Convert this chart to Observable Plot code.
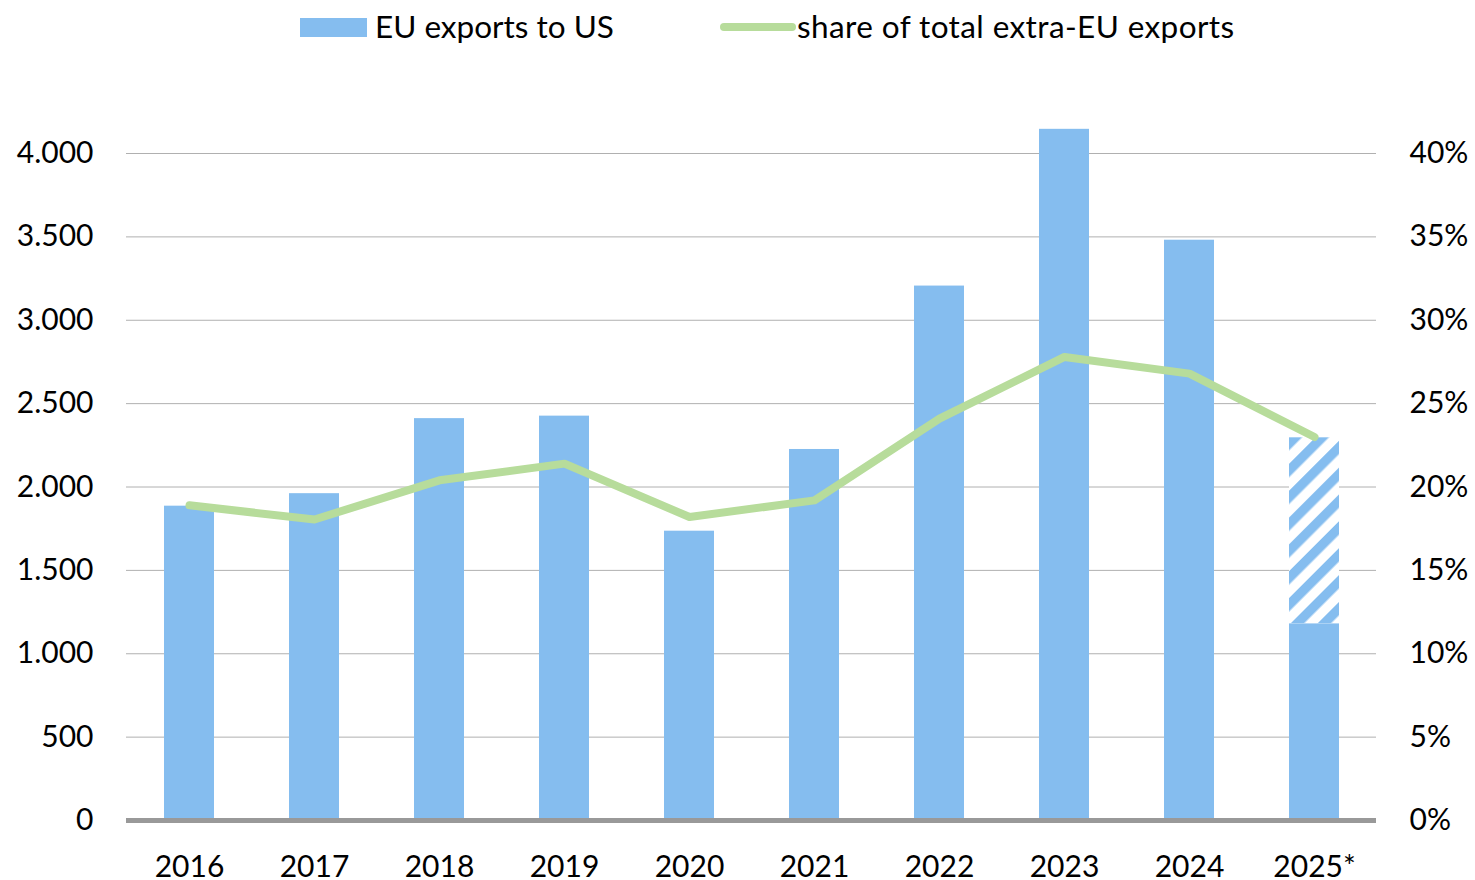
<!DOCTYPE html>
<html>
<head>
<meta charset="utf-8">
<script src="https://cdn.jsdelivr.net/npm/d3@7"></script>
<script src="https://cdn.jsdelivr.net/npm/@observablehq/plot@0.6"></script>
<style>
  html, body { margin: 0; padding: 0; background: #fff; }
  body { width: 1475px; height: 880px; overflow: hidden; font-family: Lato, "Open Sans", sans-serif; color: #000; }
  #legend { position: relative; height: 60px; width: 1475px; }
  #legend .sw { position: absolute; }
  #legend .lb { position: absolute; top: 7px; font-size: 31.5px; line-height: 38px; white-space: nowrap; }
</style>
</head>
<body>
<div id="legend">
  <div class="sw" style="left:300px;top:18px;width:67px;height:19px;background:#85bdef"></div>
  <div class="lb" style="left:375px">EU exports to US</div>
  <div class="sw" style="left:720px;top:23px;width:76px;height:8px;border-radius:4px;background:#b7dc9b"></div>
  <div class="lb" style="left:797px;letter-spacing:0.4px">share of total extra-EU exports</div>
</div>
<div id="chart"></div>
<script>
const years = ["2016", "2017", "2018", "2019", "2020", "2021", "2022", "2023", "2024", "2025*"];
const exportsToUS = [1885, 1960, 2410, 2425, 1735, 2225, 3205, 4145, 3480, 1180];
const projected2025 = 2295;
const sharePct = [18.9, 18.05, 20.4, 21.4, 18.2, 19.2, 24.1, 27.8, 26.8, 23.0];
const leftTicks = [0, 500, 1000, 1500, 2000, 2500, 3000, 3500, 4000];
const rightTicks = [0, 5, 10, 15, 20, 25, 30, 35, 40];

const barColor = "#85bdef";
const lineColor = "#b7dc9b";
const font = 'Lato, "Open Sans", sans-serif';

const rows = years.map((year, i) => ({year, value: exportsToUS[i], share: sharePct[i]}));
const projRows = [{year: "2025*", y1: exportsToUS[9], y2: projected2025}];

const loc = d3.formatLocale({decimal: ",", thousands: ".", grouping: [3], currency: ["", "€"]});
const fmt = loc.format(",");

const chart = Plot.plot({
  width: 1475,
  height: 820,
  marginTop: 93,
  marginBottom: 60,
  marginLeft: 126,
  marginRight: 99,
  style: {fontSize: "30px", fontFamily: font, color: "#000", background: "#fff", overflow: "visible"},
  x: {domain: years, paddingInner: 0.6, paddingOuter: 0.3, label: null},
  y: {domain: [0, 4000], label: null},
  marks: [
    Plot.ruleY(leftTicks.filter(d => d > 0), {stroke: "#b0b0b0", strokeWidth: 1}),
    Plot.barY(rows, {x: "year", y: "value", fill: barColor}),
    Plot.barY(projRows, {x: "year", y1: "y1", y2: "y2", fill: "white"}),
    Plot.barY(projRows, {x: "year", y1: "y1", y2: "y2", fill: "url(#hatch)"}),
    Plot.ruleY([0], {stroke: "#999999", strokeWidth: 5}),
    Plot.line(rows, {x: "year", y: d => d.share * 100, stroke: lineColor, strokeWidth: 8, strokeLinecap: "round", strokeLinejoin: "round"}),
    Plot.axisY(leftTicks, {anchor: "left", tickSize: 0, tickPadding: 33, tickFormat: fmt, fontSize: 30, label: null}),
    Plot.axisY(rightTicks.map(t => t * 100), {anchor: "right", tickSize: 0, tickPadding: 33, tickFormat: d => `${d / 100}%`, fontSize: 30, label: null}),
    Plot.axisX({tickSize: 0, tickPadding: 35, fontSize: 30, label: null})
  ]
});

const ns = "http://www.w3.org/2000/svg";
const defs = document.createElementNS(ns, "defs");
const pat = document.createElementNS(ns, "pattern");
pat.setAttribute("id", "hatch");
pat.setAttribute("patternUnits", "userSpaceOnUse");
pat.setAttribute("width", "19");
pat.setAttribute("height", "19");
pat.setAttribute("patternTransform", "rotate(45)");
const r = document.createElementNS(ns, "rect");
r.setAttribute("x", "0");
r.setAttribute("y", "0");
r.setAttribute("width", "9.5");
r.setAttribute("height", "19");
r.setAttribute("fill", barColor);
pat.appendChild(r);
defs.appendChild(pat);
chart.insertBefore(defs, chart.firstChild);

document.getElementById("chart").appendChild(chart);
</script>
</body>
</html>
